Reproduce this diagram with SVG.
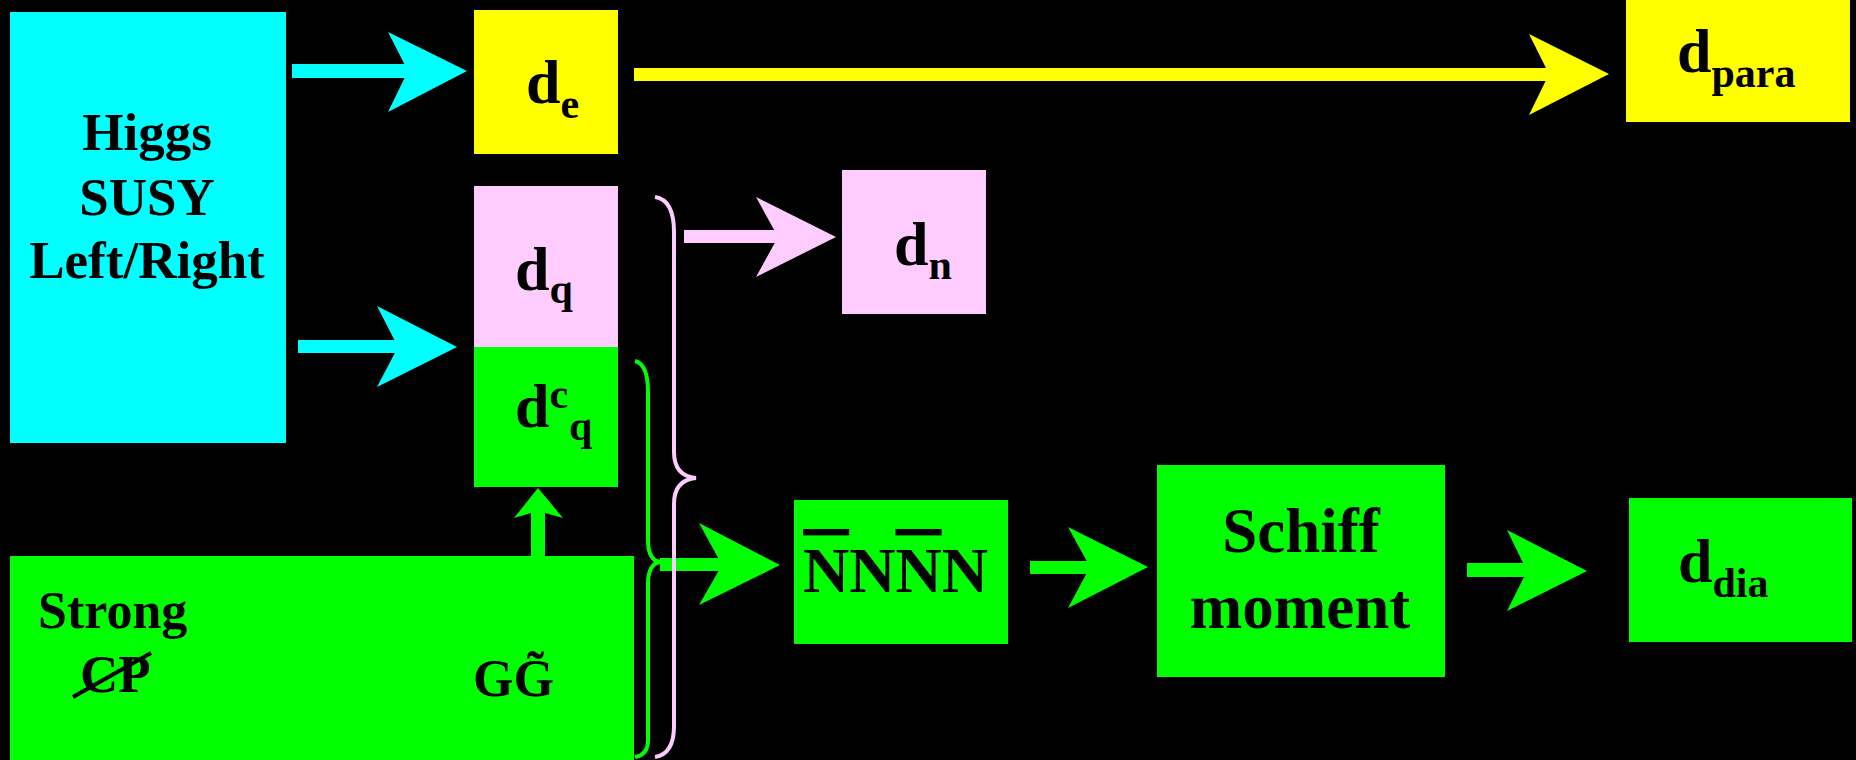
<svg xmlns="http://www.w3.org/2000/svg" width="1856" height="760" viewBox="0 0 1856 760">
<style>
text{font-family:"Liberation Serif","Times New Roman",serif;font-weight:bold;fill:#000}
.big{font-size:62px}
.sub{font-size:42px}
.lbl{font-size:53px}
.cy{fill:#00FFFF}.ye{fill:#FFFF00}.pk{fill:#FFCCFF}.gr{fill:#00FF00}
.brace{fill:none;stroke-width:4}
.ov{text-decoration:overline}
</style>
<rect x="0" y="0" width="1856" height="760" fill="#000"/>
<g id="higgs">
<rect class="cy" x="10" y="12" width="276" height="431"/>
<text class="lbl" x="147" y="150" text-anchor="middle">Higgs</text>
<text class="lbl" x="147" y="215" text-anchor="middle">SUSY</text>
<text class="lbl" x="147" y="278" text-anchor="middle">Left/Right</text>
</g>
<g id="strong">
<rect class="gr" x="10" y="556" width="624" height="204"/>
<text x="38" y="628" style="font-size:52px">Strong</text>
<text x="80" y="692" style="font-size:53px">CP</text>
<line x1="73" y1="697" x2="151" y2="653" stroke="#000" stroke-width="4"/>
<text x="473" y="696" style="font-size:52px">GG̃</text>
</g>
<g id="de">
<rect class="ye" x="474" y="10" width="144" height="144"/>
<text class="big" x="526" y="103">d<tspan class="sub" dy="15">e</tspan></text>
</g>
<g id="dq">
<rect class="pk" x="474" y="186" width="144" height="161"/>
<text class="big" x="515" y="290">d<tspan class="sub" dy="13">q</tspan></text>
</g>
<g id="dcq">
<rect class="gr" x="474" y="347" width="144" height="140"/>
<text class="big" x="515" y="427">d<tspan class="sub" dy="-19">c</tspan><tspan class="sub" x="569" y="440">q</tspan></text>
</g>
<g id="dn">
<rect class="pk" x="842" y="170" width="144" height="144"/>
<text class="big" x="894" y="265">d<tspan class="sub" dy="14">n</tspan></text>
</g>
<g id="dpara">
<rect class="ye" x="1626" y="0" width="224" height="122"/>
<text class="big" x="1677" y="72">d<tspan class="sub" dy="15">para</tspan></text>
</g>
<g id="nnnn">
<rect class="gr" x="794" y="500" width="214" height="144"/>
<text x="803" y="592" style="font-size:64px"><tspan class="ov">N</tspan>N<tspan class="ov">N</tspan>N</text>
</g>
<g id="schiff">
<rect class="gr" x="1157" y="465" width="288" height="212"/>
<text x="1301" y="552" text-anchor="middle" style="font-size:63px">Schiff</text>
<text x="1300" y="628" text-anchor="middle" style="font-size:63px">moment</text>
</g>
<g id="ddia">
<rect class="gr" x="1629" y="498" width="223" height="144"/>
<text class="big" x="1678" y="582">d<tspan class="sub" dy="15">dia</tspan></text>
</g>
<g id="connectors">
<g class="cy">
<rect x="292" y="64" width="116" height="14"/>
<polygon points="388,32 467,71 388,112 408,71"/>
<rect x="298" y="340" width="100" height="13"/>
<polygon points="377,306 457,347 377,387 398,347"/>
</g>
<g class="ye">
<rect x="634" y="68" width="915" height="13"/>
<polygon points="1529,34 1609,74 1529,115 1549,74"/>
</g>
<g class="pk">
<rect x="684" y="230" width="94" height="13"/>
<polygon points="756,197 836,237 756,277 778,237"/>
</g>
<g class="gr">
<rect x="660" y="558" width="62" height="13"/>
<polygon points="699,523 780,565 699,605 722,565"/>
<rect x="1030" y="561" width="60" height="13"/>
<polygon points="1068,527 1148,567 1068,608 1090,567"/>
<rect x="1467" y="563" width="60" height="14"/>
<polygon points="1507,530 1587,571 1507,611 1527,571"/>
<rect x="531" y="510" width="14" height="47"/>
<polygon points="514,518 538,488 563,518 538,511"/>
</g>
<path class="brace" stroke="#FFCCFF" d="M655,197 Q674,200 674,232 L674,452 Q674,476 696,478 Q674,480 674,504 L674,726 Q674,754 655,757"/>
<path class="brace" stroke="#00FF00" d="M635,361 Q648,364 648,392 L648,540 Q648,560 660,562 Q648,564 648,584 L648,740 Q648,755 635,757"/>
</g>
</svg>
